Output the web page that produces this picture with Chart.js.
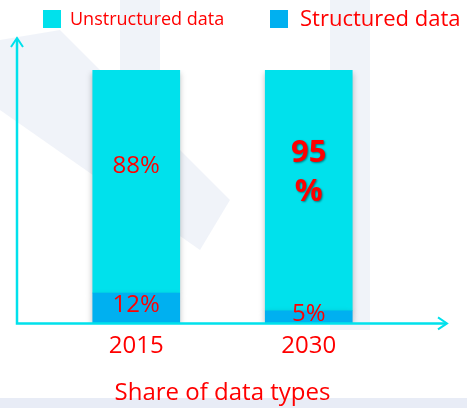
<!DOCTYPE html>
<html>
<head>
<meta charset="utf-8">
<script src="https://cdn.jsdelivr.net/npm/chart.js@4"></script>
<style>
  html, body { margin: 0; padding: 0; background: #ffffff; }
  #wrap { width: 467px; height: 408px; }
</style>
</head>
<body>
<div id="wrap"><canvas id="shareChart" width="467" height="408"></canvas></div>
<script>
const years        = ['2015', '2030'];
const structured   = [12, 5];
const unstructured = [88, 95];
const seriesNames  = ['Structured data', 'Unstructured data'];

const red = '#ff0000';
const cyan = '#00e1ec';
const blue = '#00b0f0';
const font = '"Open Sans", "Noto Sans", sans-serif';

// faint background shapes, axis arrows, legend, value labels
const decor = {
  id: 'decor',
  beforeDraw(chart) {
    const c = chart.ctx;
    c.save();
    c.fillStyle = '#ffffff';
    c.fillRect(0, 0, chart.width, chart.height);
    c.fillStyle = 'rgba(222,228,242,0.45)';
    c.beginPath();
    c.moveTo(0, 40); c.lineTo(60, 30); c.lineTo(230, 200); c.lineTo(200, 250); c.lineTo(0, 110);
    c.closePath(); c.fill();
    c.fillRect(120, 0, 40, 300);
    c.fillRect(330, 0, 40, 330);
    c.fillStyle = 'rgba(222,228,242,0.7)';
    c.fillRect(0, 398, chart.width, 10);
    c.restore();
  },
  beforeDatasetsDraw(chart) {
    chart.ctx.save();
    chart.ctx.shadowColor = 'rgba(0,0,0,0.25)';
    chart.ctx.shadowBlur = 6;
    chart.ctx.shadowOffsetY = 3;
  },
  afterDatasetsDraw(chart) {
    chart.ctx.restore();
    const c = chart.ctx;
    const { bottom } = chart.chartArea;
    const x0 = 17, yTop = 38, xEnd = 447;
    c.save();
    c.strokeStyle = cyan;
    c.lineWidth = 2.5;
    c.beginPath();
    c.moveTo(x0, yTop + 2); c.lineTo(x0, bottom); c.lineTo(xEnd - 2, bottom);
    c.stroke();
    c.lineWidth = 2;
    c.beginPath();
    c.moveTo(x0 - 6, yTop + 9); c.lineTo(x0, yTop); c.lineTo(x0 + 6, yTop + 9);
    c.moveTo(xEnd - 9, bottom - 6); c.lineTo(xEnd, bottom); c.lineTo(xEnd - 9, bottom + 6);
    c.stroke();

    // legend
    c.textBaseline = 'middle';
    c.fillStyle = cyan;
    c.fillRect(43, 10, 18, 18);
    c.fillStyle = red;
    c.font = '18px ' + font;
    c.fillText(seriesNames[1], 70, 20);
    c.fillStyle = blue;
    c.fillRect(270, 10, 18, 18);
    c.fillStyle = red;
    c.font = '22px ' + font;
    c.fillText(seriesNames[0], 300, 20);

    // value labels
    c.textAlign = 'center';
    chart.data.datasets.forEach((ds, di) => {
      chart.getDatasetMeta(di).data.forEach((bar, i) => {
        const v = ds.data[i];
        const mid = (bar.y + bar.base) / 2;
        if (di === 1 && i === 1) {
          c.save();
          c.font = 'bold 31px ' + font;
          c.shadowColor = 'rgba(0,0,0,0.45)';
          c.shadowOffsetX = 1; c.shadowOffsetY = 1; c.shadowBlur = 2;
          c.fillText(String(v), bar.x, mid - 37);
          c.fillText('%', bar.x, mid + 2);
          c.restore();
        } else {
          c.font = '24px ' + font;
          const dy = di === 1 ? -15 : -3;
          c.fillText(v + '%', bar.x, mid + dy);
        }
      });
    });
    c.restore();
  }
};

new Chart(document.getElementById('shareChart'), {
  type: 'bar',
  data: {
    labels: years,
    datasets: [
      { label: seriesNames[0], data: structured, backgroundColor: blue, borderWidth: 0 },
      { label: seriesNames[1], data: unstructured, backgroundColor: cyan, borderWidth: 0 }
    ]
  },
  options: {
    responsive: false,
    animation: false,
    layout: { padding: { left: 50, right: 72, top: 70, bottom: 0 } },
    datasets: { bar: { barThickness: 87 } },
    scales: {
      x: {
        stacked: true,
        grid: { display: false },
        border: { display: false },
        ticks: { color: red, font: { family: font, size: 24 }, padding: 0 }
      },
      y: { stacked: true, display: false, min: 0, max: 100 }
    },
    plugins: {
      legend: { display: false },
      tooltip: { enabled: false },
      title: {
        display: true,
        position: 'bottom',
        text: 'Share of data types',
        color: red,
        font: { family: font, size: 24, weight: 'normal' },
        padding: { top: 19, bottom: 0 }
      }
    }
  },
  plugins: [decor]
});
</script>
</body>
</html>
